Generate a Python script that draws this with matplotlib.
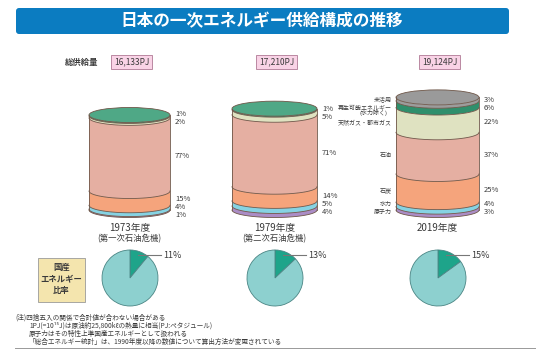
import numpy as np
import matplotlib
matplotlib.use("Agg")
import matplotlib.pyplot as plt
from matplotlib.patches import FancyBboxPatch, Ellipse, Rectangle

plt.rcParams['font.family'] = ['Noto Sans CJK JP', 'DejaVu Sans']

# ---- data ----
years = ['1973年度', '1979年度', '2019年度']
crisis = ['(第一次石油危機)', '(第二次石油危機)', '']
totals = [16133, 17210, 19124]
total_labels = ['16,133PJ', '17,210PJ', '19,124PJ']
sources = ['未活用', '再生可能エネルギー\n(水力除く)', '天然ガス・都市ガス', '石油', '石炭', '水力', '原子力']
shares_1973 = [0, 1, 2, 77, 15, 4, 1]
shares_1979 = [0, 1, 5, 71, 14, 5, 4]
shares_2019 = [3, 6, 22, 37, 25, 4, 3]
domestic = [11, 13, 15]
notes = ['(注)四捨五入の関係で合計値が合わない場合がある',
         '1PJ(=10¹⁵J)は原油約25,800kℓの熱量に相当(PJ:ペタジュール)',
         '原子力はその特性上準国産エネルギーとして扱われる',
         '「総合エネルギー統計」は、1990年度以降の数値について算出方法が変更されている']

# ---- styles ----
band_colors = ['#9c9c9c', '#2f8f6c', '#dfe2c1', '#e5afa2', '#f5a47c', '#86d3e3', '#ab8dc6']
top_colors = ['#9a9a9a', '#4fa886', '#dfe2c1', '#e5afa2', '#f5a47c', '#86d3e3', '#ab8dc6']
edge = '#6e5648'
txt = '#3a3a3a'

centers_x = [129.5, 274.5, 437.5]
half_w = [40.5, 42.5, 41.5]
ell_b = 7.5
base_y = 210.0
px_per_pj = 95.0 / totals[0]


def spread(ys, gap):
    groups = []
    for y in ys:
        groups.append([y])
        while len(groups) > 1:
            g1, g2 = groups[-2], groups[-1]
            s1 = np.mean(g1) - (len(g1) - 1) * gap / 2
            e1 = s1 + (len(g1) - 1) * gap
            s2 = np.mean(g2) - (len(g2) - 1) * gap / 2
            if s2 - e1 < gap:
                groups[-2] = g1 + g2
                groups.pop()
            else:
                break
    out = []
    for g in groups:
        s = np.mean(g) - (len(g) - 1) * gap / 2
        out += [s + k * gap for k in range(len(g))]
    return out


fig = plt.figure(figsize=(5.5, 3.53), dpi=100)
ax = fig.add_axes([0, 0, 1, 1])

# title banner
ax.add_patch(FancyBboxPatch((16, 8), 493, 26, boxstyle='round,pad=0,rounding_size=3',
                            fc='#0b7cc1', ec='none'))
ax.text(262, 21, '日本の一次エネルギー供給構成の推移', color='white', fontsize=12,
        fontweight='bold', ha='center', va='center')

ax.text(82, 62, '総供給量', fontsize=6, color=txt, ha='center', va='center', fontweight='bold')

t = np.linspace(0, np.pi, 80)
all_shares = [shares_1973, shares_1979, shares_2019]
for i, shares in enumerate(all_shares):
    cx, a = centers_x[i], half_w[i]
    h = totals[i] * px_per_pj
    top = base_y - h
    # total box
    ax.text(cx + 2, 62, total_labels[i], fontsize=6, color=txt, ha='center', va='center',
            bbox=dict(boxstyle='square,pad=0.35', fc='#f9d3e6', ec='#b07a95', lw=0.6))
    # bands
    y = top
    mids = []
    idx = []
    first = None
    for k, s in enumerate(shares):
        if s == 0:
            continue
        if first is None:
            first = k
        hh = h * s / 100.0
        y0, y1 = y, y + hh
        xs = np.concatenate([cx + a * np.cos(t[::-1]), cx + a * np.cos(t)])
        ys = np.concatenate([y0 + ell_b * np.sin(t[::-1]), y1 + ell_b * np.sin(t)])
        ax.fill(xs, ys, color=band_colors[k], lw=0)
        ax.plot(cx + a * np.cos(t), y1 + ell_b * np.sin(t), color=edge, lw=0.6)
        mids.append((y0 + y1) / 2 + 2)
        idx.append(k)
        y = y1
    # sides and top face
    ax.plot([cx - a, cx - a], [top, base_y], color=edge, lw=0.6)
    ax.plot([cx + a, cx + a], [top, base_y], color=edge, lw=0.6)
    ax.add_patch(Ellipse((cx, top), 2 * a, 2 * ell_b, fc=top_colors[first], ec=edge, lw=0.6))
    # labels
    lab_y = spread(mids, 8)
    for k, ly in zip(idx, lab_y):
        ax.text(cx + a + 5, ly, '%d%%' % all_shares[i][k], fontsize=5.5, color=txt,
                ha='left', va='center')
        if i == 2:
            lines = sources[k].split('\n')
            for j, ln in enumerate(lines):
                ax.text(cx - a - 4 + (0 if j == 0 else -5), ly + 5 * j, ln, fontsize=4.3,
                        color=txt, ha='right', va='center')
    ax.text(cx, 228, years[i], fontsize=7, color=txt, ha='center', va='center')
    if crisis[i]:
        ax.text(cx, 239, crisis[i], fontsize=6, color=txt, ha='center', va='center')

# domestic ratio box
ax.add_patch(Rectangle((38, 258), 47, 44, fc='#f4e5ae', ec='#9a9a9a', lw=0.6))
for ln, yy in zip(['国産', 'エネルギー', '比率'], [267, 279, 291]):
    ax.text(61.5, yy, ln, fontsize=6, color=txt, ha='center', va='center', fontweight='bold')

# pies
pie_r = 28
pie_cy = 278
for i, d in enumerate(domestic):
    cx = centers_x[i] + 0.5
    ax.pie([d, 100 - d], colors=['#1ea48a', '#8dd0cf'], center=(cx, pie_cy), radius=pie_r,
           startangle=270, counterclock=True, frame=True,
           wedgeprops=dict(edgecolor='#4a8584', linewidth=0.6))
    ly = pie_cy - pie_r * 0.82
    ax.plot([cx + pie_r * 0.3, cx + pie_r * 1.12], [ly, ly], color='#777777', lw=0.8)
    ax.text(cx + pie_r * 1.12 + 1.5, ly, '%d%%' % d, fontsize=6.5, color=txt,
            ha='left', va='center')

# notes
for j, n in enumerate(notes):
    ax.text(15 if j == 0 else 29, 318 + 8 * j, n, fontsize=4.8, color=txt,
            ha='left', va='center')
ax.plot([15, 535], [348, 348], color='#999999', lw=0.7)

ax.set_xlim(0, 550)
ax.set_ylim(353, 0)
ax.set_aspect('auto')
ax.axis('off')
fig.savefig('out.png', dpi=100)
